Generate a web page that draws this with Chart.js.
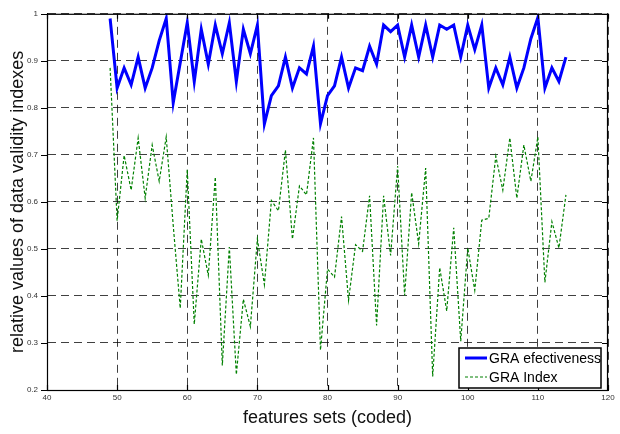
<!DOCTYPE html>
<html>
<head>
<meta charset="utf-8">
<script src="https://cdn.jsdelivr.net/npm/chart.js@4"></script>
<style>
  html, body { margin: 0; padding: 0; background: #fff; }
  #wrap { width: 620px; height: 434px; }
</style>
</head>
<body>
<div id="wrap"><canvas id="myChart" width="620" height="434"></canvas></div>
<script>
const ctx = document.getElementById('myChart').getContext('2d');

const featureSets = [
  49, 50, 51, 52, 53, 54, 55, 56, 57, 58, 59, 60, 61, 62, 63, 64, 65, 66, 67, 68, 69, 70,
  71, 72, 73, 74, 75, 76, 77, 78, 79, 80, 81, 82, 83, 84, 85, 86, 87, 88, 89, 90, 91, 92,
  93, 94, 95, 96, 97, 98, 99, 100, 101, 102, 103, 104, 105, 106, 107, 108, 109, 110, 111,
  112, 113, 114
];

const graEffectiveness = [
  0.990, 0.842, 0.885, 0.849, 0.908, 0.842, 0.885, 0.943, 0.990, 0.811, 0.896, 0.981,
  0.856, 0.967, 0.893, 0.976, 0.915, 0.981, 0.856, 0.967, 0.915, 0.976, 0.766, 0.826,
  0.847, 0.908, 0.842, 0.885, 0.872, 0.931, 0.766, 0.826, 0.847, 0.908, 0.842, 0.885,
  0.879, 0.931, 0.893, 0.976, 0.962, 0.976, 0.908, 0.976, 0.908, 0.976, 0.908, 0.976,
  0.967, 0.976, 0.908, 0.976, 0.924, 0.976, 0.842, 0.885, 0.849, 0.908, 0.842, 0.885,
  0.947, 0.992, 0.842, 0.885, 0.856, 0.908
];

const graIndex = [
  0.885, 0.560, 0.699, 0.625, 0.736, 0.608, 0.721, 0.644, 0.738, 0.550, 0.374, 0.669,
  0.340, 0.521, 0.444, 0.653, 0.252, 0.504, 0.233, 0.393, 0.335, 0.521, 0.424, 0.603,
  0.581, 0.710, 0.521, 0.634, 0.615, 0.736, 0.285, 0.457, 0.440, 0.569, 0.391, 0.509,
  0.495, 0.613, 0.337, 0.613, 0.486, 0.676, 0.401, 0.620, 0.511, 0.672, 0.229, 0.460,
  0.368, 0.545, 0.304, 0.502, 0.412, 0.561, 0.565, 0.697, 0.625, 0.736, 0.608, 0.721,
  0.644, 0.738, 0.429, 0.558, 0.502, 0.615
];

const FONT = "'Liberation Sans', Arial, sans-serif";

const toPoints = (vals) => vals.map((v, i) => ({ x: featureSets[i], y: v }));

// box round the plot plus little matlab style ticks
const frame = {
  id: 'frame',
  afterDraw(chart) {
    const c = chart.ctx;
    const a = chart.chartArea;
    const xs = chart.scales.x, ys = chart.scales.y;
    c.save();
    c.strokeStyle = '#000';
    c.lineWidth = 1.2;
    c.setLineDash([]);
    c.strokeRect(a.left + 0.5, a.top + 0.5, a.right - a.left - 1, a.bottom - a.top);
    c.beginPath();
    xs.ticks.forEach(t => {
      const px = Math.round(xs.getPixelForValue(t.value)) + 0.5;
      c.moveTo(px, a.bottom); c.lineTo(px, a.bottom - 5);
      c.moveTo(px, a.top); c.lineTo(px, a.top + 5);
    });
    ys.ticks.forEach(t => {
      const py = Math.round(ys.getPixelForValue(t.value)) + 0.5;
      c.moveTo(a.left - 6, py); c.lineTo(a.left, py);
      c.moveTo(a.right, py); c.lineTo(a.right - 6, py);
    });
    c.stroke();
    c.restore();
  }
};

// legend inside the lower right corner
const boxLegend = {
  id: 'boxLegend',
  afterDraw(chart) {
    const c = chart.ctx;
    const x0 = 459, y0 = 348, w = 142, h = 40;
    c.save();
    c.fillStyle = '#fff';
    c.fillRect(x0, y0, w, h);
    c.strokeStyle = '#000';
    c.lineWidth = 1.5;
    c.setLineDash([]);
    c.strokeRect(x0, y0, w, h);
    c.font = '14px ' + FONT;
    c.textBaseline = 'middle';
    c.fillStyle = '#000';
    chart.data.datasets.forEach((ds, i) => {
      const y = y0 + 10 + i * 19;
      c.beginPath();
      c.strokeStyle = ds.borderColor;
      c.lineWidth = ds.borderWidth;
      c.setLineDash(ds.borderDash || []);
      c.moveTo(x0 + 6, y); c.lineTo(x0 + 28, y);
      c.stroke();
      c.fillText(ds.label, x0 + 30, y + 1);
    });
    c.restore();
  }
};

const config = {
  type: 'line',
  data: {
    datasets: [
      {
        label: 'GRA efectiveness',
        data: toPoints(graEffectiveness),
        borderColor: '#0000ff',
        borderWidth: 3,
        pointRadius: 0,
        tension: 0,
      },
      {
        label: 'GRA Index',
        data: toPoints(graIndex),
        borderColor: '#008000',
        borderWidth: 1.2,
        borderDash: [3, 2],
        pointRadius: 0,
        tension: 0,
      },
    ],
  },
  options: {
    responsive: false,
    animation: false,
    layout: { padding: { top: 6, right: 12, left: 0, bottom: 0 } },
    plugins: {
      legend: { display: false },
      tooltip: { enabled: false },
    },
    scales: {
      x: {
        type: 'linear',
        min: 40,
        max: 120,
        afterFit: (s) => { s.height = 44; },
        ticks: {
          stepSize: 10,
          padding: 3,
          color: '#333',
          font: { family: FONT, size: 8 },
          maxRotation: 0,
        },
        grid: { color: 'rgba(0,0,0,0.75)', drawTicks: false, lineWidth: 1 },
        border: { display: true, color: '#000', dash: [8, 5] },
        title: {
          display: true,
          text: 'features sets (coded)',
          color: '#111',
          font: { family: FONT, size: 18 },
          padding: { top: 0, bottom: 5 },
        },
      },
      y: {
        min: 0.2,
        max: 1,
        afterFit: (s) => { s.width = 47; },
        ticks: {
          stepSize: 0.1,
          padding: 9,
          color: '#333',
          font: { family: FONT, size: 8 },
          callback: (v) => String(+v.toFixed(1)),
        },
        grid: { color: 'rgba(0,0,0,0.75)', drawTicks: false, lineWidth: 1 },
        border: { display: true, color: '#000', dash: [8, 5] },
        title: {
          display: true,
          text: 'relative values of data validity indexes',
          color: '#111',
          font: { family: FONT, size: 18 },
          padding: { top: 7, bottom: 0 },
        },
      },
    },
  },
  plugins: [frame, boxLegend],
};

const myChart = new Chart(ctx, config);
</script>
</body>
</html>
